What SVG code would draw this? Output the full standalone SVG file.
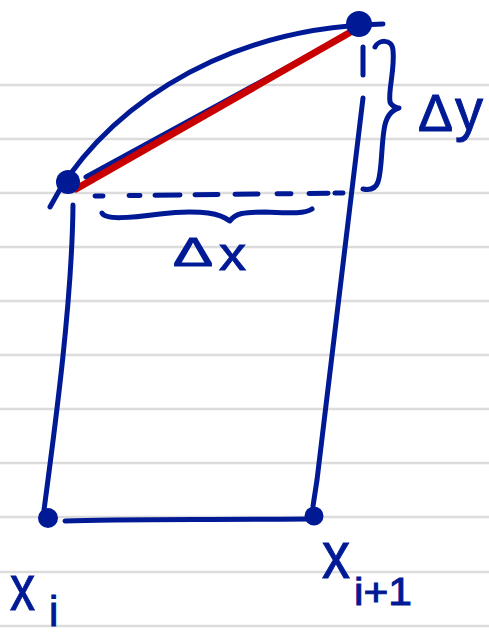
<svg xmlns="http://www.w3.org/2000/svg" width="489" height="635" viewBox="0 0 489 635">
<style>
.rule{stroke:#dcdcdc;stroke-width:2.5;fill:none}
.ink{stroke:#001a96;stroke-width:5;fill:none;stroke-linecap:round;stroke-linejoin:round}
.dot{fill:#001a96}
.lbl{fill:#001a96;stroke:#001a96;stroke-width:1;font-family:"Liberation Sans",Arial,sans-serif}
</style>
<rect width="489" height="635" fill="#ffffff"/>
<g id="ruled-paper">
<line class="rule" x1="0" y1="85" x2="489" y2="85"/>
<line class="rule" x1="0" y1="139" x2="489" y2="139"/>
<line class="rule" x1="0" y1="193" x2="489" y2="193"/>
<line class="rule" x1="0" y1="247" x2="489" y2="247"/>
<line class="rule" x1="0" y1="301" x2="489" y2="301"/>
<line class="rule" x1="0" y1="355" x2="489" y2="355"/>
<line class="rule" x1="0" y1="409" x2="489" y2="409"/>
<line class="rule" x1="0" y1="463" x2="489" y2="463"/>
<line class="rule" x1="0" y1="517" x2="489" y2="517"/>
<line class="rule" x1="0" y1="572" x2="489" y2="572"/>
<line class="rule" x1="0" y1="626" x2="489" y2="626"/>
</g>
<g id="connectors">
<path id="curve" class="ink" d="M50,207 C95,120 210,28 383,24"/>
<path id="left-side" class="ink" d="M73,205 C72,300 56,420 44,510"/>
<path id="right-side-top" class="ink" d="M363,47 L363,75"/>
<path id="right-side" class="ink" d="M363,98 L317,480 L313,506"/>
<path id="bottom" class="ink" d="M65,521 C120,519 200,520 307,519"/>
<path id="dashed" class="ink" stroke-dasharray="8 26 11 15 25 15 23 17 23 19 14 18 19 7 8 40" d="M95,196 L343,193"/>
<path id="brace-x" class="ink" d="M102,213 C105,220 130,218 160,214 C190,210 215,212 225,218 L230,221 C235,213 245,212 265,212 C290,213 305,214 312,209"/>
<path id="brace-y" class="ink" d="M375,47 C378,40 392,38 393,50 C395,70 388,90 390,102 C392,107 398,108 399,108 C392,110 386,115 384,130 C381,150 382,170 378,182 C375,190 368,190 363,189"/>
<path id="secant-under" class="ink" stroke-width="4" d="M86,177 L345,36"/>
<path id="secant" fill="none" stroke="#c80000" stroke-width="7" stroke-linecap="round" d="M76,189 L349,33"/>
</g>
<g id="node-p1"><circle class="dot" cx="68" cy="182" r="12"/></g>
<g id="node-p2"><ellipse class="dot" cx="359" cy="24" rx="13" ry="13"/></g>
<g id="node-xi"><circle class="dot" cx="48" cy="518" r="10"/></g>
<g id="node-xi1"><circle class="dot" cx="314" cy="516" r="9.5"/></g>
<g id="labels">
<text class="lbl" x="173" y="266" font-size="40" textLength="40" lengthAdjust="spacingAndGlyphs">Δ</text>
<text class="lbl" x="219" y="270" font-size="46" textLength="27" lengthAdjust="spacingAndGlyphs">x</text>
<text class="lbl" x="418" y="131" font-size="52" textLength="35" lengthAdjust="spacingAndGlyphs">Δ</text>
<text class="lbl" x="455" y="130" font-size="60" textLength="28" lengthAdjust="spacingAndGlyphs">y</text>
<text class="lbl" x="10" y="610" font-size="64" textLength="25" lengthAdjust="spacingAndGlyphs">x</text>
<text class="lbl" x="49" y="626" font-size="42">i</text>
<text class="lbl" x="322" y="578" font-size="66" textLength="28" lengthAdjust="spacingAndGlyphs">x</text>
<text class="lbl" x="354" y="605" font-size="38" textLength="58" lengthAdjust="spacingAndGlyphs">i+1</text>
</g>
</svg>
